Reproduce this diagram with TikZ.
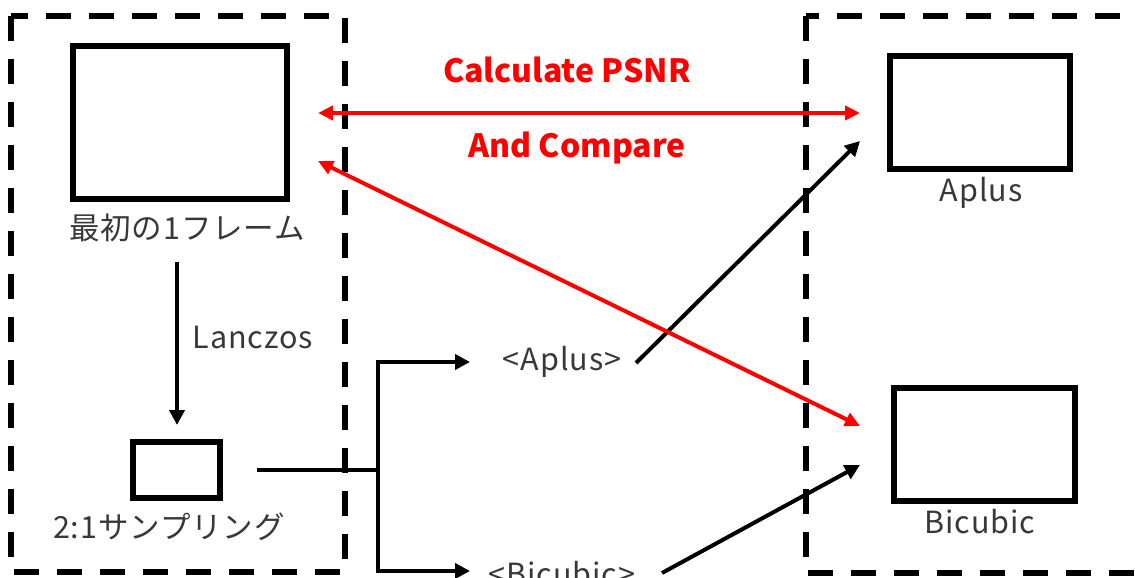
\documentclass[tikz,border=0pt]{standalone}
\usepackage{fontspec}
\setmainfont{Noto Sans CJK JP}
\newfontfamily\lblfont[LetterSpace=3]{Noto Sans CJK JP}
\usetikzlibrary{arrows.meta}
\begin{document}
\begin{tikzpicture}[x=1pt,y=-1pt,
  frame/.style={draw=black,line width=6pt,inner sep=0pt},
  lbl/.style={font=\lblfont\fontsize{30.5}{32}\selectfont,text=black!78,inner sep=0pt},
  redlbl/.style={font=\fontsize{32}{34}\selectfont\bfseries,text=red,inner sep=0pt},
  conn/.style={draw=black,line width=4pt,-{Triangle[length=15pt,width=15pt]}},
  plain/.style={draw=black,line width=4pt},
  redc/.style={draw=red,line width=4pt,{Triangle[length=15pt,width=14pt]}-{Triangle[length=15pt,width=14pt]}},
  boxd/.style={draw=black,line width=6pt,dash pattern=on 25pt off 18pt}]
\useasboundingbox (0,0) rectangle (1135,578);
\clip (0,0) rectangle (1135,578);
% dashed group boxes
\draw[boxd] (11,16) rectangle (345,572);
\draw[boxd] (806,16) rectangle (1180,573);
% frames
\node[frame,minimum width=214pt,minimum height=153pt] (big) at (180,122.5) {};
\node[frame,minimum width=87pt,minimum height=56pt] (small) at (176.5,470) {};
\node[frame,minimum width=180pt,minimum height=113pt] (aplusbox) at (980,112.5) {};
\node[frame,minimum width=181pt,minimum height=113pt] (bicbox) at (984.5,444.5) {};
% labels
\node[lbl] (lab1) at (187,228) {最初の1フレーム};
\node[lbl] (lanczos) at (253,338) {Lanczos};
\node[lbl] (lab2) at (169,527) {2:1サンプリング};
\node[lbl] (aplusin) at (562,362) {<Aplus>};
\node[lbl,anchor=base] (bicin) at (562,585) {<Bicubic>};
\node[lbl] (aplusl) at (981,193) {Aplus};
\node[lbl] (bicl) at (980,522) {Bicubic};
\node[redlbl] (calc) at (567,70) {Calculate PSNR};
\node[redlbl] (cmp) at (577,148) {And Compare};
% connector end points
\coordinate (d1) at (177,262);
\coordinate (d2) at (177,425);
\coordinate (s0) at (257,470);
\coordinate (j) at (378,470);
\coordinate (ta) at (470,362);
\coordinate (tb) at (470,571);
\coordinate (a0) at (636,363);
\coordinate (a1) at (860,141);
\coordinate (b0) at (662,573);
\coordinate (b1) at (860,465);
\coordinate (r1l) at (318,113);
\coordinate (r1r) at (860,113);
\coordinate (r2l) at (318,161);
\coordinate (r2r) at (860,426);
% connectors
\draw[conn] (d1) -- (d2);
\draw[plain] (s0) -- (j);
\draw[conn] (j) |- (ta);
\draw[conn] (j) |- (tb);
\draw[conn] (a0) -- (a1);
\draw[conn] (b0) -- (b1);
\draw[redc] (r1l) -- (r1r);
\draw[redc] (r2l) -- (r2r);
\end{tikzpicture}
\end{document}
